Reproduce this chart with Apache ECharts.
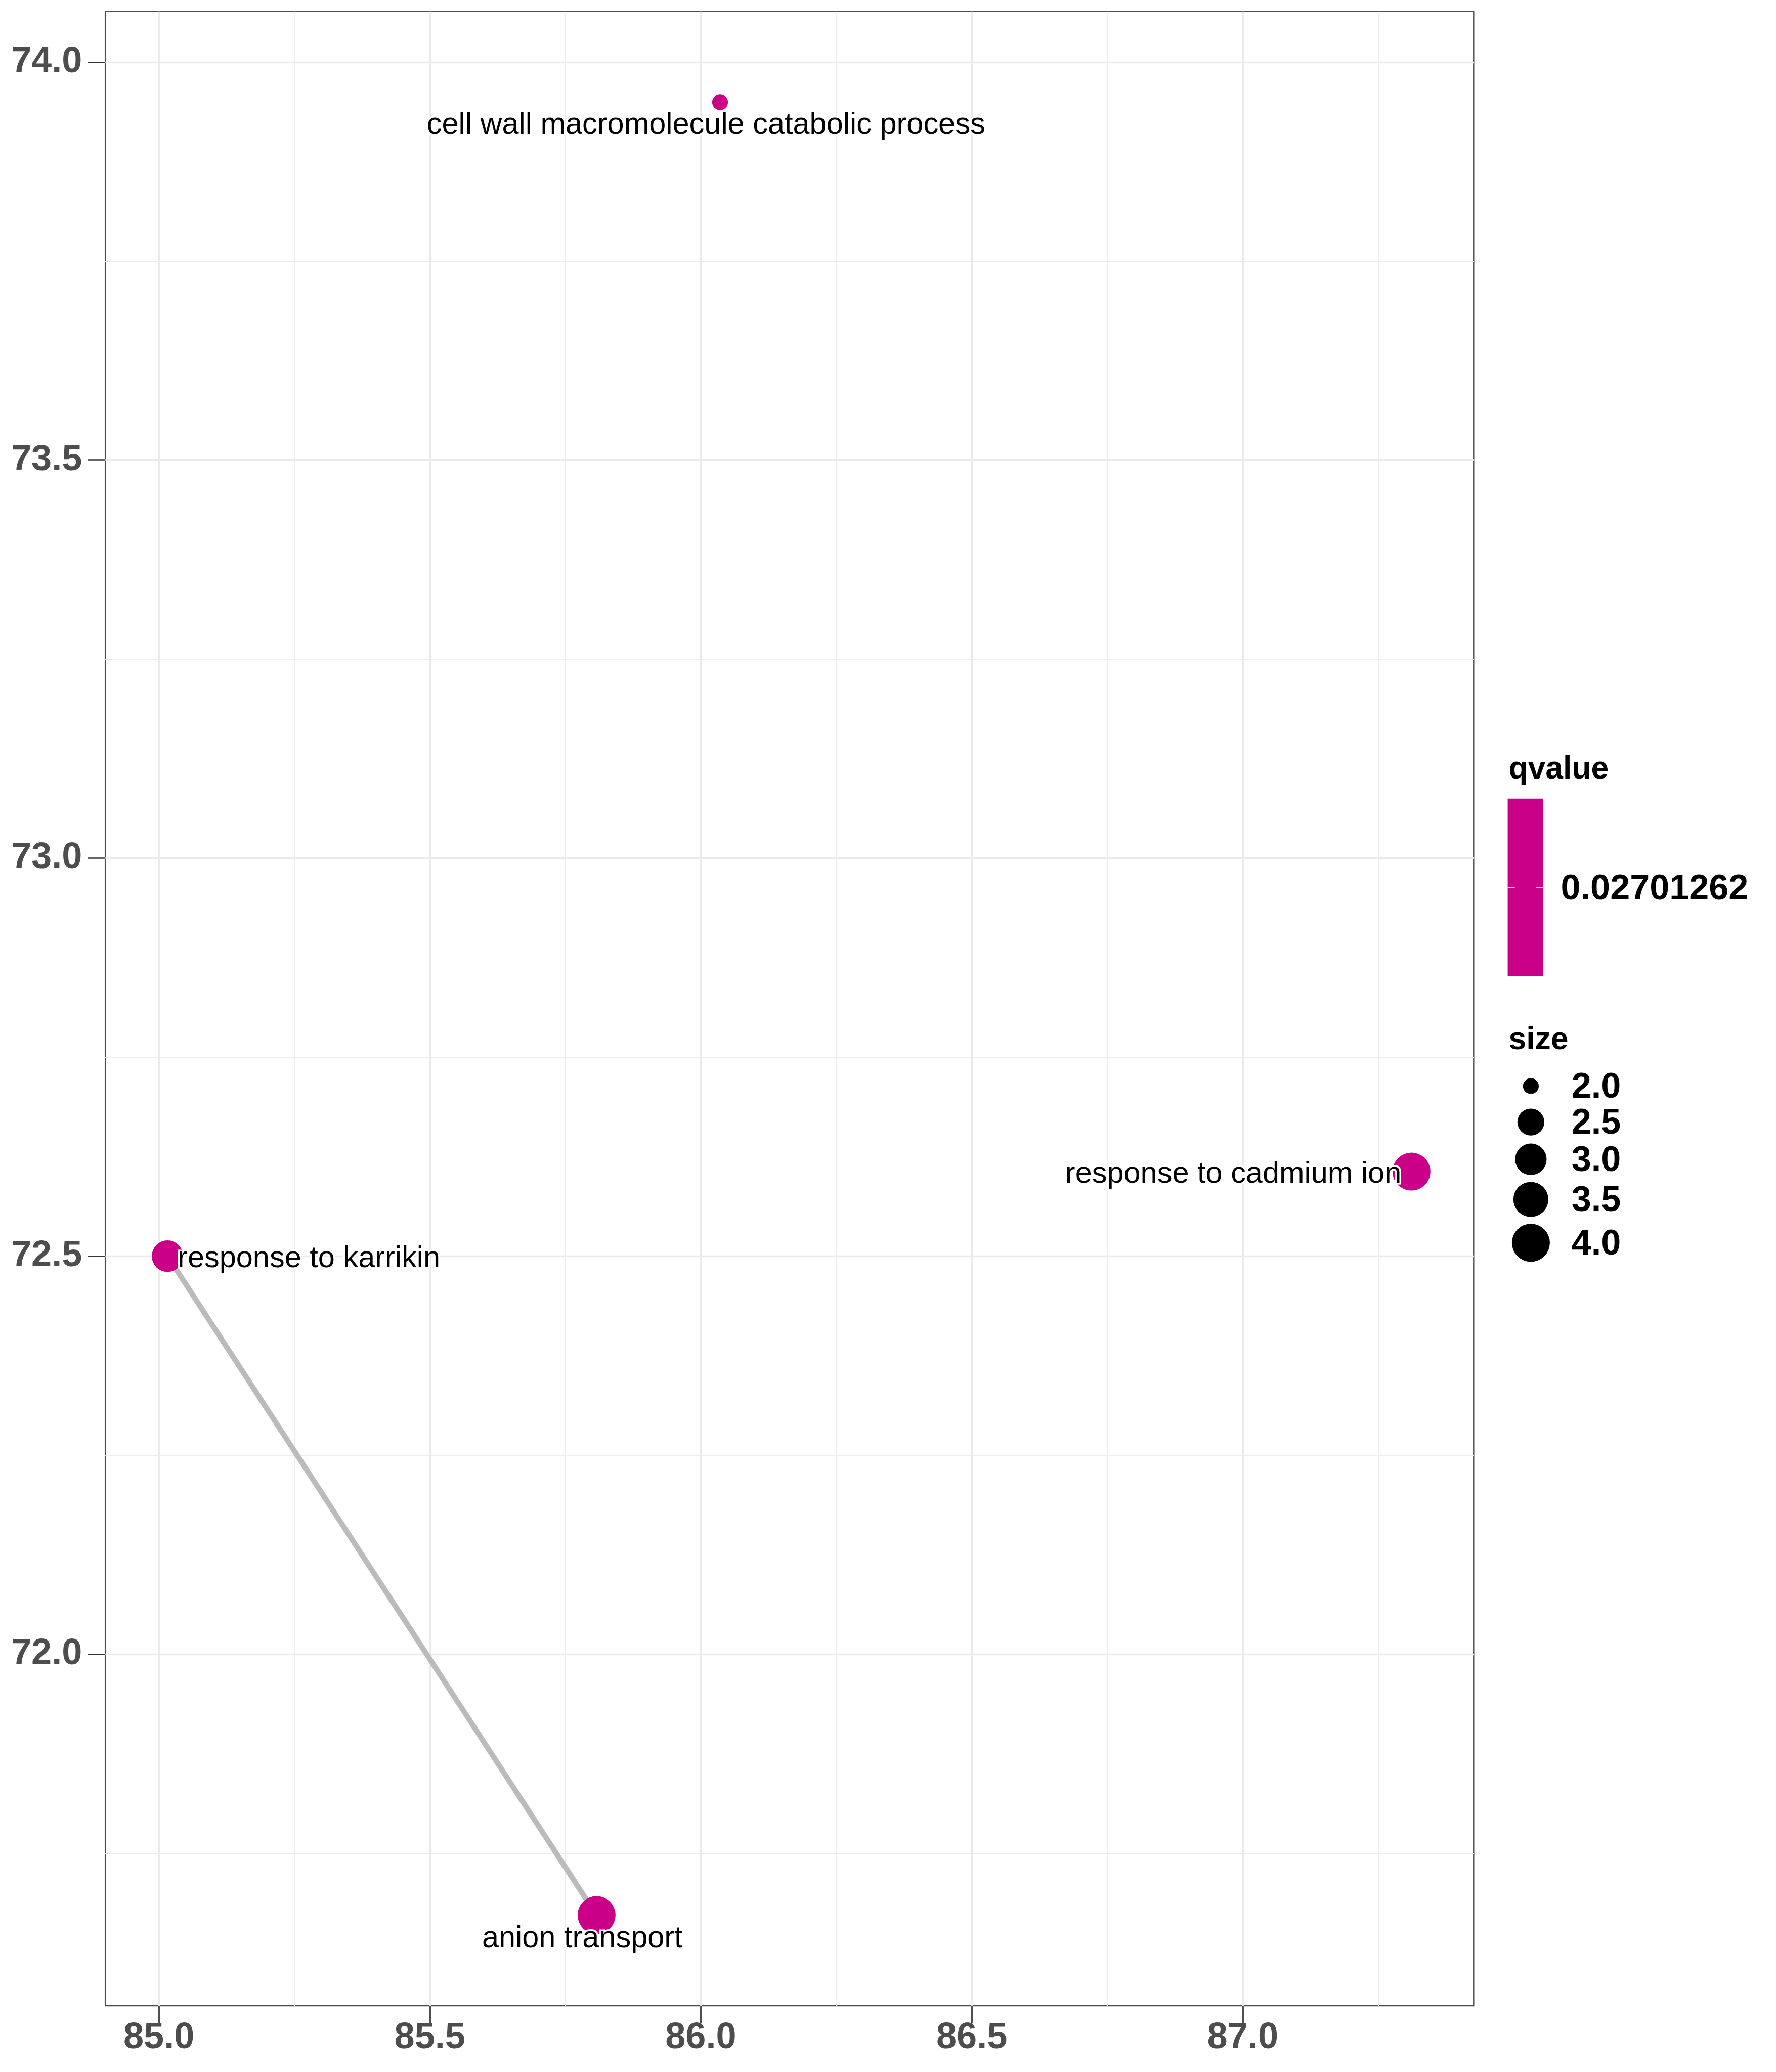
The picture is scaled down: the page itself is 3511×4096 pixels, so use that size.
<!DOCTYPE html>
<html>
<head>
<meta charset="utf-8">
<script src="https://cdn.jsdelivr.net/npm/echarts@6/dist/echarts.min.js"></script>
<style>
html,body{margin:0;padding:0;background:#ffffff;}
#chart{width:3511px;height:4096px;}
</style>
</head>
<body>
<div id="chart"></div>
<script>
// ---------------- data ----------------
const terms = [
  'cell wall macromolecule catabolic process',
  'response to karrikin',
  'response to cadmium ion',
  'anion transport'
];
const xValues = [86.0355, 85.0159, 87.3113, 85.8076];
const yValues = [73.9498, 72.5001, 72.6063, 71.6723];
const sizes   = [2, 3, 4, 4];
const qvalues = [0.02701262, 0.02701262, 0.02701262, 0.02701262];
const edges   = [[1, 3]];               // pairs of term indices joined by a line

const xTicks = [85.0, 85.5, 86.0, 86.5, 87.0];
const xMinorTicks = [85.25, 85.75, 86.25, 86.75, 87.25];
const yTicks = [72.0, 72.5, 73.0, 73.5, 74.0];
const yMinorTicks = [71.75, 72.25, 72.75, 73.25, 73.75];
const sizeBreaks = [2.0, 2.5, 3.0, 3.5, 4.0];
const qBreaks = [0.02701262];

// ---------------- style ----------------
const S = 0.975;                         // reference -> window scale
const px = v => v * S;
const FONT = "'Liberation Sans', Arial, Helvetica, sans-serif";
const POINT_COLOR = '#CA0089';
const MID = 0.27;                        // baseline offset below text middle (em)

// label placement relative to the point (reference px, baseline offset)
const labelPlacement = [
  {align: 'center', dx: -28.5, dy: 63},
  {align: 'left',   dx: 20.5,  dy: 22.5},
  {align: 'right',  dx: -20.6, dy: 22.3},
  {align: 'center', dx: -28.8, dy: 64}
];
const LABEL_FONT = 61;

function expand(arr) {
  const mn = Math.min(...arr), mx = Math.max(...arr), r = mx - mn;
  return [mn - 0.05 * r, mx + 0.05 * r];
}
const [xMin, xMax] = expand(xValues);
const [yMin, yMax] = expand(yValues);

const sMin = Math.min(...sizes), sMax = Math.max(...sizes);
function diamRef(v) { return 32 + 45 * Math.sqrt((v - sMin) / (sMax - sMin)); }

// ---------------- series data ----------------
const pointData = terms.map((t, i) => {
  const p = labelPlacement[i];
  return {
    name: t,
    value: [xValues[i], yValues[i], sizes[i], qvalues[i]],
    symbolSize: px(diamRef(sizes[i])),
    label: {
      align: p.align,
      offset: [px(p.dx), px(p.dy) - MID * px(LABEL_FONT)]
    }
  };
});

const edgeData = edges.map(([a, b]) => ({
  coords: [[xValues[a], yValues[a]], [xValues[b], yValues[b]]]
}));

// ---------------- legend graphics ----------------
const graphics = [];
const TITLE_FONT = 64, LEG_FONT = 72;
function text(x, y, str, size, align) {
  return {
    type: 'text', x: px(x), y: px(y), silent: true,
    style: {
      text: str, fill: '#000000', align: align || 'left', verticalAlign: 'middle',
      font: 'bold ' + px(size) + 'px ' + FONT
    }
  };
}
// qvalue colour bar
graphics.push(text(3059, 1578.6 - MID * TITLE_FONT, 'qvalue', TITLE_FONT));
graphics.push({
  type: 'rect', silent: true,
  shape: {x: px(3057), y: px(1619.3), width: px(72), height: px(360)},
  style: {fill: POINT_COLOR}
});
qBreaks.forEach(q => {
  const yy = px(1799);
  graphics.push({type: 'line', silent: true, shape: {x1: px(3057), y1: yy, x2: px(3071.4), y2: yy}, style: {stroke: '#ffffff', lineWidth: px(1.5)}});
  graphics.push({type: 'line', silent: true, shape: {x1: px(3114.6), y1: yy, x2: px(3129), y2: yy}, style: {stroke: '#ffffff', lineWidth: px(1.5)}});
  graphics.push(text(3164.7, 1800 + 4, String(q), LEG_FONT));
});
// size legend
graphics.push(text(3059, 2126.7 - MID * TITLE_FONT, 'size', TITLE_FONT));
let cy = 2202, prevH = null;
sizeBreaks.forEach((s, i) => {
  const d = diamRef(s);
  const h = Math.max(73, d + 14);
  if (i > 0) cy += (prevH + h) / 2;
  prevH = h;
  graphics.push({
    type: 'circle', silent: true,
    shape: {cx: px(3104), cy: px(cy), r: px(d / 2)},
    style: {fill: '#000000'}
  });
  graphics.push(text(3186.5, cy + 4, s.toFixed(1), LEG_FONT));
});

// ---------------- chart ----------------
const tickStyle = {color: '#333333', width: px(2.8)};
const axisLabelStyle = {color: '#4D4D4D', fontSize: px(74), fontWeight: 'bold', fontFamily: FONT};

const option = {
  animation: false,
  backgroundColor: '#ffffff',
  grid: {
    left: px(213.5), top: px(23.3),
    right: 3511 - px(2988), bottom: 4096 - px(4066.7),
    show: true, borderColor: '#4D4D4D', borderWidth: px(2.5),
    backgroundColor: 'transparent', containLabel: false, outerBoundsMode: 'none'
  },
  xAxis: [
    {
      type: 'value', min: xMin, max: xMax, position: 'bottom',
      axisLine: {show: false},
      axisTick: {show: true, inside: false, length: px(36), lineStyle: tickStyle, customValues: xTicks},
      axisLabel: Object.assign({show: true, customValues: xTicks, margin: 28, formatter: v => v.toFixed(1)}, axisLabelStyle),
      splitLine: {show: true, lineStyle: {color: '#EBEBEB', width: px(3.4)}},
      minorTick: {show: false}, minorSplitLine: {show: false}
    },
    {
      type: 'value', min: xMin, max: xMax, position: 'bottom',
      axisLine: {show: false},
      axisTick: {show: false, customValues: xMinorTicks},
      axisLabel: {show: false, customValues: xMinorTicks},
      splitLine: {show: true, lineStyle: {color: '#EDEDED', width: px(2.2)}}
    }
  ],
  yAxis: [
    {
      type: 'value', min: yMin, max: yMax, position: 'left',
      axisLine: {show: false},
      axisTick: {show: true, inside: false, length: px(35), lineStyle: tickStyle, customValues: yTicks},
      axisLabel: Object.assign({show: true, customValues: yTicks, margin: px(47), padding: [9, 0, 0, 0], formatter: v => v.toFixed(1)}, axisLabelStyle),
      splitLine: {show: true, lineStyle: {color: '#EBEBEB', width: px(3.4)}},
      minorTick: {show: false}, minorSplitLine: {show: false}
    },
    {
      type: 'value', min: yMin, max: yMax, position: 'left',
      axisLine: {show: false},
      axisTick: {show: false, customValues: yMinorTicks},
      axisLabel: {show: false, customValues: yMinorTicks},
      splitLine: {show: true, lineStyle: {color: '#EDEDED', width: px(2.2)}}
    }
  ],
  series: [
    {
      type: 'lines', coordinateSystem: 'cartesian2d', xAxisIndex: 0, yAxisIndex: 0,
      z: 2, silent: true, polyline: false,
      lineStyle: {color: '#BBBBBB', width: px(11), opacity: 1, curveness: 0},
      data: edgeData
    },
    {
      type: 'scatter', xAxisIndex: 0, yAxisIndex: 0, z: 3, silent: true,
      symbol: 'circle',
      itemStyle: {color: POINT_COLOR, opacity: 1},
      label: {
        show: true, position: 'inside', formatter: p => p.name,
        color: '#000000', fontSize: px(LABEL_FONT), fontFamily: FONT, fontWeight: 'normal',
        verticalAlign: 'middle',
        textBorderColor: '#ffffff', textBorderWidth: px(7)
      },
      emphasis: {disabled: true},
      data: pointData
    }
  ],
  graphic: graphics
};

const chart = echarts.init(document.getElementById('chart'), null, {renderer: 'canvas'});
chart.setOption(option);
</script>
</body>
</html>
